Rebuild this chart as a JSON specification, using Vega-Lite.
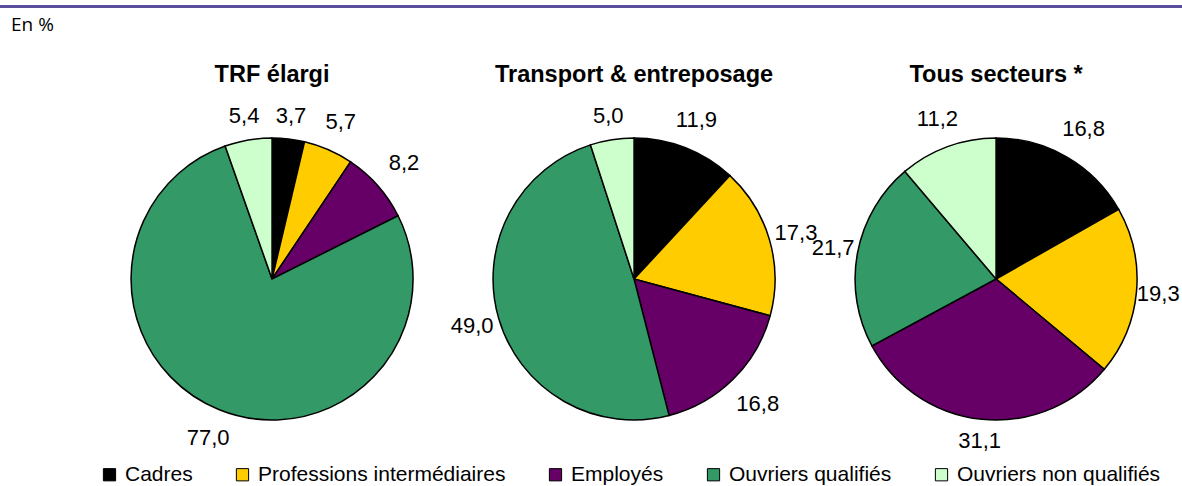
{
  "$schema": "https://vega.github.io/schema/vega-lite/v6.json",
  "padding": 0,
  "background": "white",
  "config": {
    "locale": {"number": {"decimal": ",", "thousands": "\u00a0", "grouping": [3], "currency": ["", "\u00a0€"]}},
    "view": {"stroke": null},
    "concat": {"spacing": 28},
    "font": "Liberation Sans"
  },
  "datasets": {
    "parts": [
      {"secteur": "TRF élargi", "categorie": "Cadres", "rang": 1, "valeur": 3.7},
      {"secteur": "TRF élargi", "categorie": "Professions intermédiaires", "rang": 2, "valeur": 5.7},
      {"secteur": "TRF élargi", "categorie": "Employés", "rang": 3, "valeur": 8.2},
      {"secteur": "TRF élargi", "categorie": "Ouvriers qualifiés", "rang": 4, "valeur": 77.0},
      {"secteur": "TRF élargi", "categorie": "Ouvriers non qualifiés", "rang": 5, "valeur": 5.4},
      {"secteur": "Transport & entreposage", "categorie": "Cadres", "rang": 1, "valeur": 11.9},
      {"secteur": "Transport & entreposage", "categorie": "Professions intermédiaires", "rang": 2, "valeur": 17.3},
      {"secteur": "Transport & entreposage", "categorie": "Employés", "rang": 3, "valeur": 16.8},
      {"secteur": "Transport & entreposage", "categorie": "Ouvriers qualifiés", "rang": 4, "valeur": 49.0},
      {"secteur": "Transport & entreposage", "categorie": "Ouvriers non qualifiés", "rang": 5, "valeur": 5.0},
      {"secteur": "Tous secteurs *", "categorie": "Cadres", "rang": 1, "valeur": 16.8},
      {"secteur": "Tous secteurs *", "categorie": "Professions intermédiaires", "rang": 2, "valeur": 19.3},
      {"secteur": "Tous secteurs *", "categorie": "Employés", "rang": 3, "valeur": 31.1},
      {"secteur": "Tous secteurs *", "categorie": "Ouvriers qualifiés", "rang": 4, "valeur": 21.7},
      {"secteur": "Tous secteurs *", "categorie": "Ouvriers non qualifiés", "rang": 5, "valeur": 11.2}
    ]
  },
  "vconcat": [
    {
      "width": 1182,
      "height": 3,
      "view": {"fill": "#5B4E9B", "stroke": null},
      "title": {"text": "En %", "orient": "bottom", "anchor": "start", "dx": 11, "offset": 4, "font": "Open Sans", "fontSize": 19, "fontWeight": "normal", "color": "#000000"},
      "data": {"values": [{}]},
      "mark": {"type": "text", "text": ""},
      "encoding": {}
    },
    {
      "width": 1182,
      "height": 416,
      "data": {"name": "parts"},
      "transform": [
        {"stack": "valeur", "groupby": ["secteur"], "sort": [{"field": "rang", "order": "ascending"}], "offset": "normalize", "as": ["v0", "v1"]},
        {"calculate": "(datum.v0 + datum.v1) / 2", "as": "vmid"}
      ],
      "encoding": {
        "x": {
          "field": "secteur",
          "type": "nominal",
          "scale": {"type": "point", "domain": ["TRF élargi", "Transport & entreposage", "Tous secteurs *"], "padding": 0.6326, "align": 0.594},
          "axis": null
        }
      },
      "layer": [
        {
          "mark": {"type": "arc", "outerRadius": 141, "stroke": "#000000", "strokeWidth": 1.5},
          "encoding": {
            "theta": {"field": "v0", "type": "quantitative", "scale": {"domain": [0, 1]}},
            "theta2": {"field": "v1"},
            "color": {
              "field": "categorie",
              "type": "nominal",
              "scale": {
                "domain": ["Cadres", "Professions intermédiaires", "Employés", "Ouvriers qualifiés", "Ouvriers non qualifiés"],
                "range": ["#000000", "#FFCC00", "#660066", "#339966", "#CCFFCC"]
              },
              "legend": {
                "orient": "none",
                "legendX": 99,
                "legendY": 459,
                "direction": "horizontal",
                "title": null,
                "symbolType": "square",
                "symbolSize": 150,
                "symbolStrokeColor": "#000000",
                "symbolStrokeWidth": 1,
                "symbolOpacity": 1,
                "labelFont": "Liberation Sans",
                "labelFontSize": 21,
                "labelColor": "#000000",
                "labelLimit": 400,
                "labelOffset": 5,
                "columnPadding": 39
              }
            }
          }
        },
        {
          "mark": {"type": "text", "radius": {"expr": "160 + 16 * abs(sin(4 * PI * datum.vmid))"}, "fontSize": 22, "font": "Liberation Sans", "color": "#000000", "align": "center", "baseline": "middle"},
          "encoding": {
            "theta": {"field": "vmid", "type": "quantitative", "scale": {"domain": [0, 1]}},
            "text": {"field": "valeur", "type": "quantitative", "format": ".1f"}
          }
        },
        {
          "transform": [{"filter": "datum.rang === 1"}],
          "mark": {"type": "text", "dy": -204, "fontSize": 23.5, "fontWeight": "bold", "font": "Liberation Sans", "color": "#000000", "align": "center", "baseline": "middle"},
          "encoding": {"text": {"field": "secteur"}}
        }
      ]
    }
  ]
}
